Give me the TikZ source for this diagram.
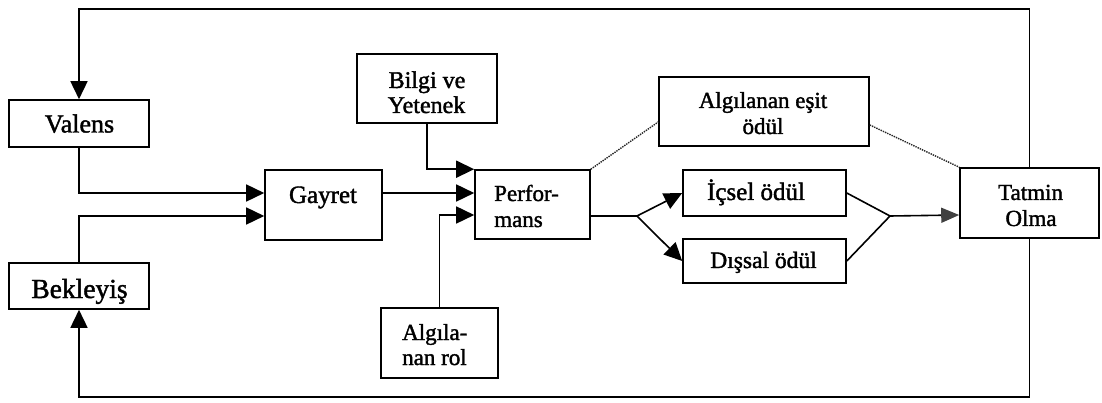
\documentclass[tikz,border=0pt]{standalone}
\usepackage{fontspec}
\setmainfont{Liberation Serif}[RawFeature={embolden=1.6}]
\usetikzlibrary{arrows.meta}
\newcommand{\fs}[1]{\fontsize{#1}{#1}\selectfont}
\begin{document}
\begin{tikzpicture}[x=1pt,y=-1pt,
  box/.style={draw, line width=1.6pt, inner sep=0pt, rectangle},
  txt/.style={anchor=base, inner sep=0pt, font=\fs{23}},
  txtl/.style={anchor=base west, inner sep=0pt, font=\fs{23}},
  ln/.style={line width=1.6pt},
  arr/.style={line width=1.6pt, -{Triangle[length=18pt,width=17pt]}},
  garr/.style={line width=1.6pt, -{Triangle[length=18pt,width=15pt,fill=black!75,color=black!75]}},
  dots/.style={line width=1.4pt, dash pattern=on 1.4pt off 1pt, black!85}
]
\useasboundingbox (0,0) rectangle (1102,403);
% boxes
\node[box, minimum width=140pt, minimum height=47pt] (val) at (79,123.5) {};
\node[box, minimum width=140pt, minimum height=46pt] (bek) at (79,286) {};
\node[box, minimum width=117pt, minimum height=70pt] (gay) at (323.5,205) {};
\node[box, minimum width=140pt, minimum height=69pt] (bil) at (427,88.5) {};
\node[box, minimum width=117pt, minimum height=70pt] (rol) at (439.5,343) {};
\node[box, minimum width=115pt, minimum height=69pt] (perf) at (532.5,204.5) {};
\node[box, minimum width=210pt, minimum height=69pt] (esit) at (764,111.5) {};
\node[box, minimum width=163pt, minimum height=46pt] (ic) at (764.5,193) {};
\node[box, minimum width=163pt, minimum height=44pt] (dis) at (764.5,261) {};
\node[box, minimum width=139pt, minimum height=70pt] (tat) at (1029.5,203) {};
% texts
\node[txt, font=\fs{26}] (tval) at (79.5,132.5) {Valens};
\node[txt, font=\fs{27.5}] (tbek) at (79.5,298) {Bekleyiş};
\node[txt, font=\fs{25}] (tgay) at (323,203) {Gayret};
\node[txt, font=\fs{24}] (tbil1) at (427,88) {Bilgi ve};
\node[txt, font=\fs{24}] (tbil2) at (426.5,113) {Yetenek};
\node[txtl] (trol1) at (402,340) {Algıla-};
\node[txtl] (trol2) at (402,365) {nan rol};
\node[txtl] (tperf1) at (494,201) {Perfor-};
\node[txtl] (tperf2) at (494,227) {mans};
\node[txt] (tesit1) at (763,108) {Algılanan eşit};
\node[txt] (tesit2) at (763,134) {ödül};
\node[txt, font=\fs{25}] (tic) at (756,200) {İçsel ödül};
\node[txt, font=\fs{23.5}] (tdis) at (763.5,268) {Dışsal ödül};
\node[txt] (ttat1) at (1030.5,200) {Tatmin};
\node[txt] (ttat2) at (1031,226) {Olma};
% helper coordinates
\coordinate (tl) at (79,9);
\coordinate (bl) at (79,397);
\coordinate (fork) at (637,216);
\coordinate (join) at (890,216);
% feedback loops
\draw[arr] (tat.north) |- (tl) -- (val.north);
\draw[arr] (tat.south) |- (bl) -- (bek.south);
% into Gayret
\draw[arr] (val.south) |- ([yshift=12pt]gay.west);
\draw[arr] (bek.north) |- ([yshift=-11pt]gay.west);
% into Performans
\draw[arr] (bil.south) |- (perf.north west);
\draw[arr] ([yshift=12pt]gay.east) -- ([yshift=11.5pt]perf.west);
\draw[arr] (rol.north) |- ([yshift=-10.5pt]perf.west);
% rewards
\draw[ln] ([yshift=-11.5pt]perf.east) -- (fork);
\draw[arr] (fork) -- (ic.west);
\draw[arr] (fork) -- (dis.west);
\draw[ln] (ic.east) -- (join) -- (dis.east);
\draw[garr] (join) -- ([yshift=-12pt]tat.west);
% equity dotted lines
\draw[dots] (perf.north east) -- ([yshift=-10.5pt]esit.west);
\draw[dots] ([yshift=-13.5pt]esit.east) -- (tat.north west);
\end{tikzpicture}
\end{document}
